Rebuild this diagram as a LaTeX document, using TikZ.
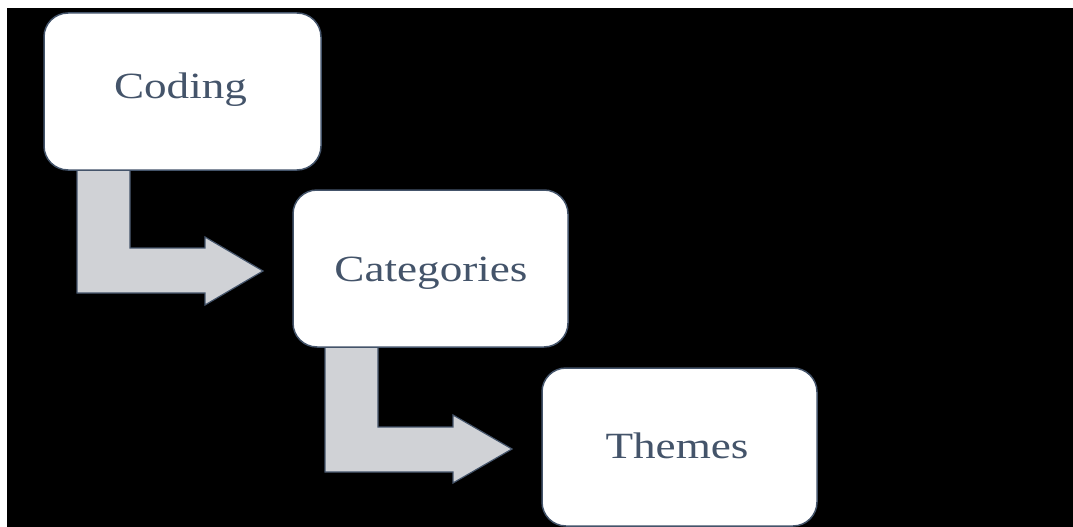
\documentclass[tikz,border=0pt]{standalone}
\usepackage{fontspec}
\setmainfont{Liberation Serif}
\definecolor{slate}{HTML}{44546A}
\definecolor{arrowgray}{HTML}{D0D2D6}
\newcommand{\wide}[1]{\scalebox{1.22}[1]{#1}}
\begin{document}
\begin{tikzpicture}[x=1pt,y=-1pt,
  box/.style={draw=slate, line width=1.5pt, fill=white, rounded corners=24pt, inner sep=0pt},
  lbl/.style={anchor=base, inner sep=0pt, font=\fontsize{37}{44}\selectfont, text=slate},
  bentarrow/.style={draw=slate, line width=1.2pt, fill=arrowgray, line join=miter}]
\useasboundingbox (0,0) rectangle (1073,527);
\fill[white] (0,0) rectangle (1073,527);
\fill[black] (7,8) rectangle (1073,527);
% bent arrows
\draw[bentarrow] (77,170) -- (130,170) -- (130,248) -- (205,248) -- (205,237)
  -- (263,271) -- (205,305) -- (205,293) -- (77,293) -- cycle;
\draw[bentarrow] (325,347) -- (378,347) -- (378,427) -- (453,427) -- (453,415)
  -- (512,449) -- (453,483) -- (453,472) -- (325,472) -- cycle;
% boxes
\node[box, minimum width=277pt, minimum height=157pt] (coding) at (182.5,91.5) {};
\node[box, minimum width=275pt, minimum height=157pt] (categories) at (430.5,268.5) {};
\node[box, minimum width=275pt, minimum height=158pt] (themes) at (679.5,447) {};
% labels
\node[lbl] (codingtext) at (180.5,99) {\wide{Coding}};
\node[lbl] (categoriestext) at (431,281) {\wide{Categories}};
\node[lbl] (themestext) at (677,458) {\wide{Themes}};
\end{tikzpicture}
\end{document}
